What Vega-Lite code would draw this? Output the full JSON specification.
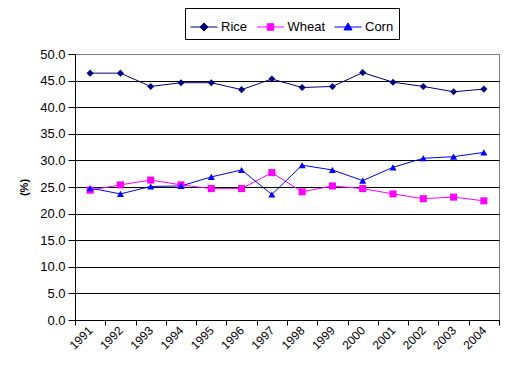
{
  "$schema": "https://vega.github.io/schema/vega-lite/v6.json",
  "width": 424,
  "height": 266,
  "autosize": {"type": "none"},
  "padding": {"left": 75, "top": 54, "right": 16, "bottom": 63},
  "background": "white",
  "config": {
    "view": {"stroke": "#808080", "strokeWidth": 1},
    "font": "Liberation Sans"
  },
  "data": {
    "values": [
      {"year": "1991", "crop": "Rice", "value": 46.4},
      {"year": "1992", "crop": "Rice", "value": 46.4},
      {"year": "1993", "crop": "Rice", "value": 43.9},
      {"year": "1994", "crop": "Rice", "value": 44.6},
      {"year": "1995", "crop": "Rice", "value": 44.6},
      {"year": "1996", "crop": "Rice", "value": 43.3},
      {"year": "1997", "crop": "Rice", "value": 45.3},
      {"year": "1998", "crop": "Rice", "value": 43.7},
      {"year": "1999", "crop": "Rice", "value": 43.9},
      {"year": "2000", "crop": "Rice", "value": 46.5},
      {"year": "2001", "crop": "Rice", "value": 44.7},
      {"year": "2002", "crop": "Rice", "value": 43.9},
      {"year": "2003", "crop": "Rice", "value": 42.9},
      {"year": "2004", "crop": "Rice", "value": 43.4},
      {"year": "1991", "crop": "Wheat", "value": 24.4},
      {"year": "1992", "crop": "Wheat", "value": 25.4},
      {"year": "1993", "crop": "Wheat", "value": 26.3},
      {"year": "1994", "crop": "Wheat", "value": 25.4},
      {"year": "1995", "crop": "Wheat", "value": 24.7},
      {"year": "1996", "crop": "Wheat", "value": 24.7},
      {"year": "1997", "crop": "Wheat", "value": 27.7},
      {"year": "1998", "crop": "Wheat", "value": 24.1},
      {"year": "1999", "crop": "Wheat", "value": 25.2},
      {"year": "2000", "crop": "Wheat", "value": 24.7},
      {"year": "2001", "crop": "Wheat", "value": 23.7},
      {"year": "2002", "crop": "Wheat", "value": 22.8},
      {"year": "2003", "crop": "Wheat", "value": 23.1},
      {"year": "2004", "crop": "Wheat", "value": 22.4},
      {"year": "1991", "crop": "Corn", "value": 24.8},
      {"year": "1992", "crop": "Corn", "value": 23.7},
      {"year": "1993", "crop": "Corn", "value": 25.1},
      {"year": "1994", "crop": "Corn", "value": 25.2},
      {"year": "1995", "crop": "Corn", "value": 26.9},
      {"year": "1996", "crop": "Corn", "value": 28.2},
      {"year": "1997", "crop": "Corn", "value": 23.6},
      {"year": "1998", "crop": "Corn", "value": 29.1},
      {"year": "1999", "crop": "Corn", "value": 28.2},
      {"year": "2000", "crop": "Corn", "value": 26.2},
      {"year": "2001", "crop": "Corn", "value": 28.7},
      {"year": "2002", "crop": "Corn", "value": 30.4},
      {"year": "2003", "crop": "Corn", "value": 30.7},
      {"year": "2004", "crop": "Corn", "value": 31.5}
    ]
  },
  "encoding": {
    "x": {
      "field": "year",
      "type": "ordinal",
      "scale": {"type": "band", "paddingInner": 0, "paddingOuter": 0},
      "axis": {
        "title": null,
        "labelAngle": -45,
        "labelAlign": "right",
        "labelBaseline": "middle",
        "labelFontSize": 12,
        "labelColor": "black",
        "tickBand": "extent",
        "tickColor": "black",
        "tickSize": 5,
        "labelPadding": 3,
        "domainColor": "black",
        "grid": false
      }
    },
    "y": {
      "field": "value",
      "type": "quantitative",
      "scale": {"domain": [0, 50], "nice": false},
      "axis": {
        "values": [0, 5, 10, 15, 20, 25, 30, 35, 40, 45, 50],
        "format": ".1f",
        "title": "(%)",
        "titleFontWeight": "bold",
        "titleFontSize": 11,
        "titleColor": "black",
        "titlePadding": 10,
        "labelFontSize": 13,
        "labelColor": "black",
        "tickColor": "black",
        "tickSize": 7,
        "labelPadding": 3,
        "domainColor": "black",
        "grid": true,
        "gridColor": {"condition": {"test": "datum.value === 50", "value": "#808080"}, "value": "black"},
        "gridOpacity": 1
      }
    },
    "color": {
      "field": "crop",
      "type": "nominal",
      "sort": ["Rice", "Wheat", "Corn"],
      "scale": {"range": ["#000080", "#FF00FF", "#0000FF"]},
      "legend": {
        "orient": "none",
        "legendX": 110,
        "legendY": -46,
        "direction": "horizontal",
        "title": null,
        "symbolSize": 729,
        "symbolStrokeWidth": 1,
        "labelFontSize": 13,
        "labelColor": "black",
        "labelOffset": 3,
        "columnPadding": 6.5,
        "padding": 5,
        "strokeColor": "black",
        "fillColor": "white",
        "encode": {
          "symbols": {
            "update": {
              "shape": {"signal": "datum.value === 'Rice' ? 'M-1,0H1M0,-0.3L0.3,0L0,0.3L-0.3,0Z' : datum.value === 'Wheat' ? 'M-1,0H1M-0.24,-0.24H0.24V0.24H-0.24Z' : 'M-1,0H1M0,-0.3L0.3,0.22H-0.3Z'"},
              "fill": {"signal": "scale('color', datum.value)"},
              "stroke": {"signal": "scale('color', datum.value)"},
              "strokeWidth": {"value": 1},
              "size": {"value": 729},
              "opacity": {"value": 1}
            }
          }
        }
      }
    }
  },
  "layer": [
    {"mark": {"type": "line", "strokeWidth": 1}},
    {
      "mark": {"type": "point", "filled": true, "opacity": 1, "size": 50},
      "encoding": {
        "shape": {
          "field": "crop",
          "type": "nominal",
          "scale": {"domain": ["Rice", "Wheat", "Corn"], "range": ["diamond", "square", "triangle-up"]},
          "legend": null
        }
      }
    }
  ]
}
